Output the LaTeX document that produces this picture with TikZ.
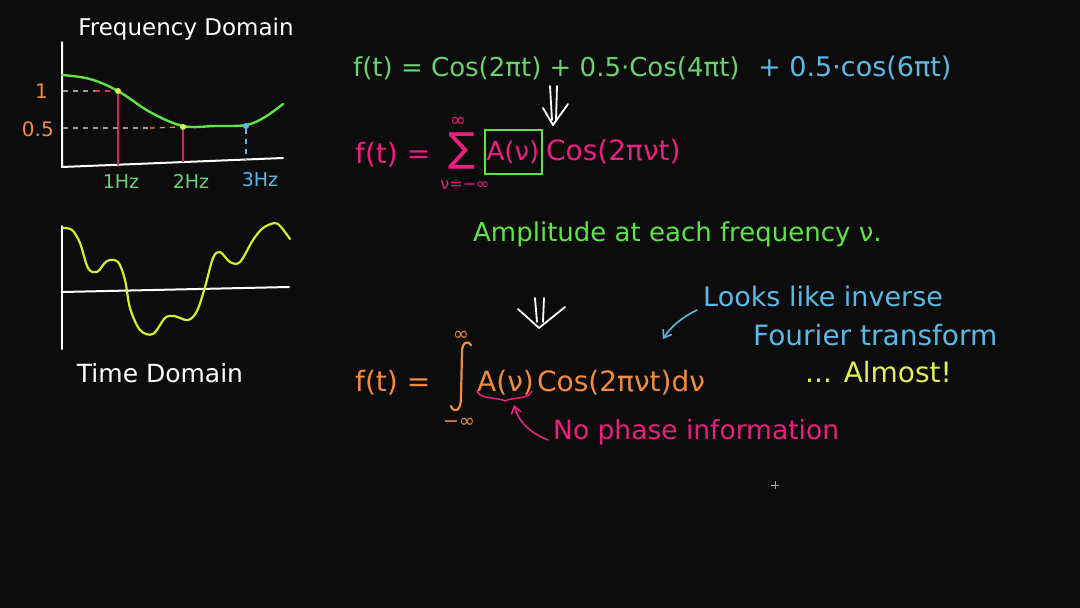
\documentclass[tikz,border=0pt]{standalone}
\usepackage{fontspec}
\setmainfont{DejaVu Sans}
\usetikzlibrary{arrows.meta}
\definecolor{bg}{RGB}{12,12,12}
\definecolor{hgreen}{RGB}{95,228,70}
\definecolor{fgreen}{RGB}{105,210,110}
\definecolor{hblue}{RGB}{90,185,230}
\definecolor{hpink}{RGB}{236,30,128}
\definecolor{horange}{RGB}{242,140,60}
\definecolor{hyellow}{RGB}{225,240,80}
\definecolor{tyellow}{RGB}{212,240,40}
\definecolor{hred}{RGB}{220,30,85}
\newcommand{\fs}[1]{\fontsize{#1}{#1}\selectfont}
\begin{document}
\begin{tikzpicture}[x=1pt,y=-1pt,
  lbl/.style={inner sep=0pt, font=\fs{19}},
  small/.style={inner sep=0pt, font=\fs{15}},
  eq/.style={inner sep=0pt, anchor=west, font=\fs{26}},
  stroke/.style={line width=1.6pt, line cap=round, line join=round},
  axis/.style={stroke, white, line width=2pt},
  dot/.style={circle, inner sep=0pt, minimum size=6pt},
  dropline/.style={line width=1.2pt},
  dashline/.style={line width=1.2pt, dash pattern=on 5pt off 5pt},
  dasharrow/.style={stroke, white, line width=1.8pt}]
\fill[bg] (0,0) rectangle (1080,608);
\useasboundingbox (0,0) rectangle (1080,608);

% ---------- Frequency domain plot ----------
\node[lbl, white, font=\fs{23}] (ftitle) at (186,29) {Frequency Domain};
\coordinate (fo) at (62,167);
\coordinate (ftop) at (62,42);
\coordinate (fend) at (283,158);
\draw[axis] (ftop) -- (fo) -- (fend);
\draw[stroke, hgreen, line width=2.4pt] plot[smooth, tension=0.6] coordinates
  {(62,75) (90,79) (118,91) (150,112) (183,126) (215,126) (246,125) (265,117) (283,104)};
\node[dot, fill=hyellow] (d1) at (118,91) {};
\node[dot, fill=hyellow] (d2) at (183,127) {};
\node[dot, fill=hblue] (d3) at (246,126) {};
\coordinate (b1) at (118,165);
\coordinate (b2) at (183,162);
\coordinate (b3) at (246,160);
\coordinate (y1) at (63,91);
\coordinate (y2) at (63,128);
\draw[dropline, hred] (d1) -- (b1);
\draw[dropline, hred] (d2) -- (b2);
\draw[dashline, hblue] (d3) -- (b3);
\draw[dashline, gray!80] (y1) -- (95,91);
\draw[dashline, hred!80!orange] (95,91) -- (d1);
\draw[dashline, gray!80] (y2) -- (150,128);
\draw[dashline, horange] (150,128) -- (d2);
\node[lbl, horange, anchor=east, font=\fs{20}] (l1) at (48,91) {1};
\node[lbl, horange, anchor=east, font=\fs{20}] (l05) at (54,129) {0.5};
\node[lbl, fgreen] (hz1) at (121,182) {1Hz};
\node[lbl, fgreen] (hz2) at (191,181) {2Hz};
\node[lbl, hblue] (hz3) at (260,180) {3Hz};

% ---------- Time domain plot ----------
\coordinate (ttop) at (62,226);
\coordinate (tbot) at (62,349);
\coordinate (tl) at (62,292);
\coordinate (tr) at (289,287);
\draw[axis] (ttop) -- (tbot);
\draw[axis] (tl) -- (tr);
\draw[stroke, tyellow, line width=2.2pt] plot[smooth, tension=0.55] coordinates
  {(63,228) (72,230) (80,243) (88,268) (97,272) (107,261) (118,262) (125,280)
   (130,308) (140,330) (153,334) (165,318) (174,316) (188,320) (197,311)
   (205,287) (213,258) (220,252) (230,262) (240,262) (253,240) (263,228)
   (275,223) (281,227) (290,239)};
\node[lbl, white, font=\fs{25}] (ttitle) at (160,373) {Time Domain};

% ---------- Equation 1 ----------
\node[eq, fgreen] (e1a) at (353,68) {f(t) = Cos(2πt) + 0.5·Cos(4πt)};
\node[eq, hblue, font=\fs{27}] (e1b) at (758,68) {+ 0.5·cos(6πt)};

% first double arrow
\draw[dasharrow] (550,86) -- (552,120);
\draw[dasharrow] (557,86) -- (556,120);
\draw[dasharrow] (543,108) -- (553,125) -- (568,104);

% ---------- Equation 2 ----------
\node[eq, hpink, font=\fs{28}] (e2a) at (355,155) {f(t) =};
\node[inner sep=0pt, hpink, font=\fs{40}] (sum) at (462,151) {∑};
\node[small, hpink, font=\fs{19}] (sumtop) at (458,122) {∞};
\node[small, hpink, font=\fs{16}] (sumbot) at (465,185) {ν=−∞};
\node[eq, anchor=center, hpink, font=\fs{26}, draw=hgreen, line width=2pt, minimum width=57pt, minimum height=44pt] (box) at (513,152) {A(ν)};
\node[eq, hpink, font=\fs{28}] (e2b) at (546,152) {Cos(2πνt)};

% ---------- Amplitude line ----------
\node[eq, hgreen] (amp) at (473,234) {Amplitude at each frequency ν.};

% second double arrow
\draw[dasharrow] (535,298) -- (537,322);
\draw[dasharrow] (544,298) -- (543,322);
\draw[dasharrow] (518,309) -- (539,328) -- (565,307);

% ---------- Equation 3 ----------
\node[eq, horange, font=\fs{28}] (e3a) at (355,383) {f(t) =};
\draw[stroke, horange, line width=2.2pt] (451,406) .. controls (454,414) and (461,411) .. (461,398)
  -- (462,352) .. controls (462,342) and (468,340) .. (471,345);
\node[small, horange, font=\fs{19}] (inttop) at (461,336) {∞};
\node[small, horange, font=\fs{19}] (intbot) at (459,423) {−∞};
\node[eq, horange, font=\fs{28}] (aA) at (477,383) {A(ν)};
\node[eq, horange, font=\fs{28}] (e3b) at (537,383) {Cos(2πνt)dν};
\coordinate (brL) at (477,391);
\coordinate (brM) at (505,401);
\coordinate (brR) at (532,391);
\draw[stroke, hpink, line width=1.5pt] (brL) .. controls (480,400) and (499,397) .. (brM)
  .. controls (511,397) and (529,400) .. (brR);

% ---------- notes ----------
\node[eq, hblue, font=\fs{27}] (looks) at (703,296) {Looks like inverse};
\node[eq, hblue, font=\fs{28}] (fourier) at (753,335) {Fourier transform};
\coordinate (lookstip) at (663,339);
\draw[stroke, hblue, -{Straight Barb[length=7pt,width=10pt]}] ([xshift=-6pt,yshift=-14pt]looks.west) .. controls (683,317) and (671,326) .. (lookstip);
\node[eq, hyellow, font=\fs{28}] (almost) at (805,372) {... Almost!};
\node[eq, hpink, font=\fs{26.5}] (phase) at (553,432) {No phase information};
\coordinate (phtip) at (514,405);
\draw[stroke, hpink, -{Straight Barb[length=7pt,width=10pt]}] ([xshift=-5pt,yshift=-8pt]phase.west) .. controls (528,432) and (518,420) .. (phtip);

% cursor
\draw[gray!70, line width=0.6pt] (771,485) -- (779,485) (775,481) -- (775,489);
\end{tikzpicture}
\end{document}
